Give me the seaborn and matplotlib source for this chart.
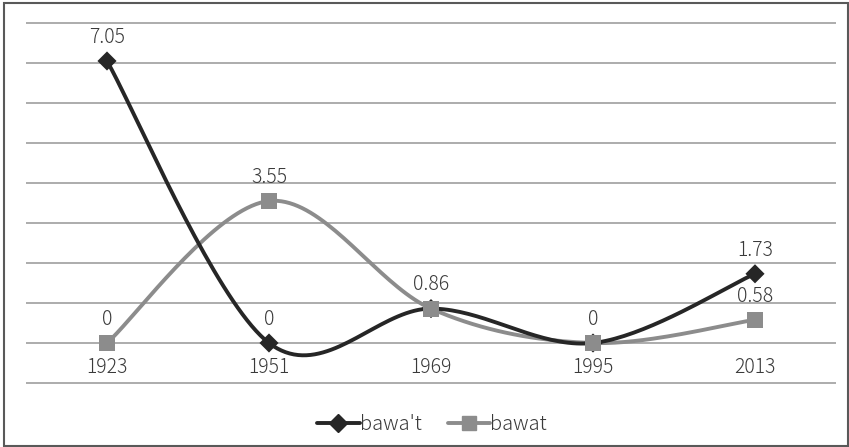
import numpy as np
import pandas as pd
import matplotlib
matplotlib.use("Agg")
import matplotlib.pyplot as plt
import seaborn as sns
from matplotlib.lines import Line2D
from matplotlib.patches import Rectangle

years = ["1923", "1951", "1969", "1995", "2013"]
bawa_t = [7.05, 0, 0.86, 0, 1.73]
bawat = [0, 3.55, 0.86, 0, 0.58]
series_names = ["bawa't", "bawat"]
series_vals = [bawa_t, bawat]
colors = ["#262626", "#8c8c8c"]
markers = ["D", "s"]

sns.set_theme(style="white")
plt.rcParams["font.family"] = ["Noto Sans CJK JP", "DejaVu Sans"]
plt.rcParams["font.weight"] = "light"


def catmull_rom(xs, ys, n=40):
    xs = np.asarray(xs, float)
    ys = np.asarray(ys, float)
    px = np.concatenate([[xs[0]], xs, [xs[-1]]])
    py = np.concatenate([[ys[0]], ys, [ys[-1]]])
    ox, oy = [], []
    for i in range(1, len(px) - 2):
        p0, p1, p2, p3 = (np.array([px[j], py[j]]) for j in (i - 1, i, i + 1, i + 2))
        c1 = p1 + (p2 - p0) / 6.0
        c2 = p2 - (p3 - p1) / 6.0
        t = np.linspace(0, 1, n)[:, None]
        pts = ((1 - t) ** 3) * p1 + 3 * ((1 - t) ** 2) * t * c1 + 3 * (1 - t) * t ** 2 * c2 + t ** 3 * p2
        if i > 1:
            pts = pts[1:]
        ox.extend(pts[:, 0])
        oy.extend(pts[:, 1])
    return np.array(ox), np.array(oy)


W, H = 849, 447
fig = plt.figure(figsize=(W / 100, H / 100), dpi=100)
ax = fig.add_axes([26 / W, 1 - 384 / H, (836 - 26) / W, (384 - 22) / H])

xs = np.arange(len(years))
order = [1, 0]
for k in order:
    sx, sy = catmull_rom(xs, series_vals[k])
    df = pd.DataFrame({"x": sx, "y": sy})
    sns.lineplot(data=df, x="x", y="y", ax=ax, sort=False, color=colors[k],
                 linewidth=2.8, estimator=None, zorder=3 + (1 - k))
for k in [0, 1]:
    dfp = pd.DataFrame({"x": xs, "y": series_vals[k]})
    sns.scatterplot(data=dfp, x="x", y="y", ax=ax, marker=markers[k], color=colors[k],
                    s=95 if k == 0 else 130, edgecolor="none", zorder=5 + k)

for k in range(2):
    for i, v in enumerate(series_vals[k]):
        if k == 1 and i in (2, 3):
            continue
        txt = f"{v:g}" if v != 0 else "0"
        ax.annotate(txt, (i, v), xytext=(0, 17), textcoords="offset points",
                    ha="center", va="center", fontsize=14, color="#3a3a3a")

ax.set_xlim(-0.5, len(years) - 0.5)
ax.set_ylim(-1 - 1 / 40, 8 + 1 / 40)
ax.set_yticks(np.arange(-1, 9, 1))
ax.yaxis.grid(True, color="#a6a6a6", linewidth=1.3)
ax.xaxis.grid(False)
ax.set_yticklabels([])
ax.set_xticks([])
ax.tick_params(left=False, bottom=False)
for s in ax.spines.values():
    s.set_visible(False)
ax.set_xlabel("")
ax.set_ylabel("")

for i, y in enumerate(years):
    ax.text(i, -0.62, y, ha="center", va="center", fontsize=14, color="#3a3a3a")

handles = [Line2D([0], [0], color=colors[k], marker=markers[k], linewidth=2.8,
                  markersize=9 if k == 0 else 10, markeredgecolor=colors[k])
           for k in range(2)]
fig.legend(handles, series_names, loc="center", bbox_to_anchor=(432 / W, 1 - 425 / H),
           ncol=2, frameon=False, fontsize=14.5, handlelength=2.1, handletextpad=0.0,
           columnspacing=1.3, labelcolor="#3a3a3a")

fig.patches.append(Rectangle((4 / W, 1 - 446 / H), (848 - 4) / W, (446 - 3) / H,
                             transform=fig.transFigure, fill=False,
                             edgecolor="#595959", linewidth=1.5))

fig.savefig("out.png", dpi=100)
